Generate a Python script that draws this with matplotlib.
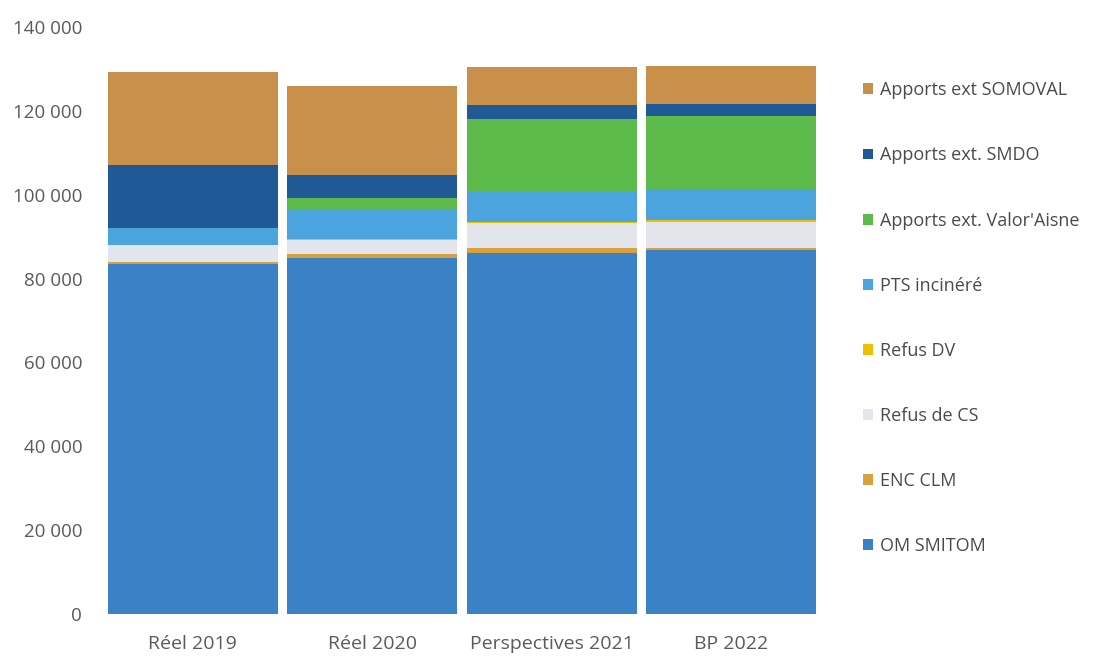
import numpy as np
import matplotlib.pyplot as plt
from matplotlib.ticker import FuncFormatter
from matplotlib.patches import Patch

plt.rcParams["font.family"] = ["Open Sans", "DejaVu Sans"]

# categories and stacked series (tonnes), bottom to top
categories = ["Réel 2019", "Réel 2020", "Perspectives 2021", "BP 2022"]
series = ["OM SMITOM", "ENC CLM", "Refus de CS", "Refus DV", "PTS incinéré",
          "Apports ext. Valor'Aisne", "Apports ext. SMDO", "Apports ext SOMOVAL"]
om_smitom = [83500, 85000, 86000, 86700]
enc_clm = [500, 800, 1200, 700]
refus_cs = [3900, 3500, 6000, 6100]
refus_dv = [100, 200, 200, 500]
pts_incinere = [4000, 7000, 7400, 7400]
valor_aisne = [0, 2700, 17300, 17400]
smdo = [15200, 5500, 3400, 2900]
somoval = [22000, 21200, 9000, 9000]

values = [om_smitom, enc_clm, refus_cs, refus_dv, pts_incinere,
          valor_aisne, smdo, somoval]
colors = ["#3A82C5", "#D9A040", "#E2E6EC", "#F0C000", "#4CA4DF",
          "#5DBB4B", "#1F5A96", "#C8904A"]

fig = plt.figure(figsize=(10.96, 6.57), dpi=100)
ax = fig.add_axes([103 / 1096, 43 / 657, 718 / 1096, 587 / 657])

x = np.arange(len(categories))
bottom = np.zeros(len(categories))
for vals, col in zip(values, colors):
    ax.bar(x, vals, bottom=bottom, width=0.945, color=col, edgecolor="none")
    bottom += np.array(vals)

ax.set_xlim(-0.5, len(categories) - 0.5)
ax.set_ylim(0, 140000)
ax.set_yticks(np.arange(0, 140001, 20000))
ax.yaxis.set_major_formatter(FuncFormatter(lambda v, p: f"{int(v):,}".replace(",", " ")))
ax.set_xticks(x)
ax.set_xticklabels(categories)
ax.tick_params(axis="both", length=0, colors="#5a5a5a")
ax.tick_params(axis="y", pad=15, labelsize=13.5)
ax.tick_params(axis="x", pad=15, labelsize=14)
for s in ax.spines.values():
    s.set_visible(False)

handles = [Patch(facecolor=c, edgecolor="none") for c in colors]
leg = fig.legend(handles[::-1], series[::-1], loc="upper left",
                 bbox_to_anchor=(847 / 1096, 1 - 65 / 657), frameon=False,
                 fontsize=13, labelspacing=2.61, handlelength=0.55,
                 handleheight=0.55, handletextpad=0.35)
for t in leg.get_texts():
    t.set_color("#4a4a4a")

fig.savefig("out.png", dpi=100)
